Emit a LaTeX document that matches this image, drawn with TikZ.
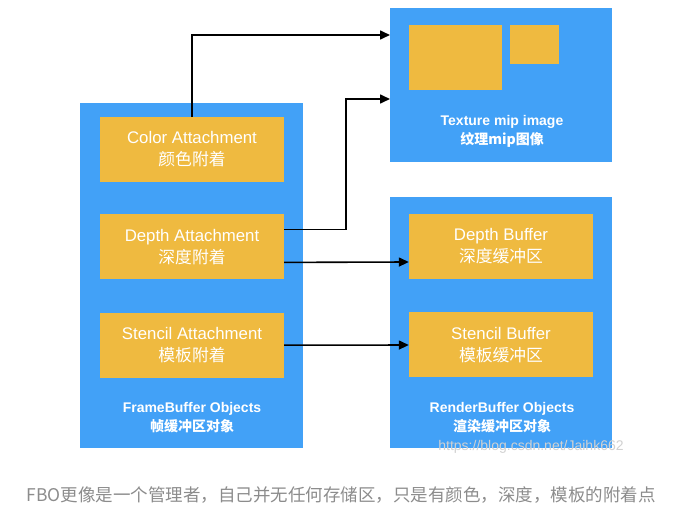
\documentclass[tikz,border=0pt]{standalone}
\usepackage{fontspec}
\setmainfont{Liberation Sans}
\newfontfamily\cjk{Noto Sans CJK SC}
\usetikzlibrary{arrows.meta, positioning, calc}
\definecolor{boxblue}{HTML}{42A1F7}
\definecolor{slotgold}{HTML}{EFBA40}
\definecolor{notegray}{HTML}{8C8C8C}

\begin{document}
\begin{tikzpicture}[x=1pt, y=-1pt,
    outer/.style={fill=boxblue, inner sep=0pt},
    slot/.style={fill=slotgold, minimum width=184pt, minimum height=65pt, inner sep=0pt,
        text=white, align=center, font=\fontsize{16.8}{22}\selectfont},
    mipbox/.style={fill=slotgold, inner sep=0pt},
    grouplab/.style={text=white, align=center, font=\bfseries\fontsize{14}{19}\selectfont},
    arr/.style={-{Triangle[length=10pt,width=9pt]}, line width=1.6pt, black},
]
\fill[white] (0,0) rectangle (693,514);
\useasboundingbox (0,0) rectangle (693,514);
\node[outer, minimum width=223pt, minimum height=345pt] (fbo) at (191.5,275.5) {};
\node[outer, minimum width=222pt, minimum height=154pt] (tex) at (501,85) {};
\node[outer, minimum width=222pt, minimum height=251pt] (rbo) at (501,322.5) {};
\node[slot] (color) at (192,149.5) {Color Attachment\\{\cjk 颜色附着}};
\node[slot, below=32pt of color] (depth) {Depth Attachment\\{\cjk 深度附着}};
\node[slot, below=33pt of depth] (stencil) {Stencil Attachment\\{\cjk 模板附着}};
\node[slot] (dbuf) at (501,246.5) {Depth Buffer\\{\cjk 深度缓冲区}};
\node[slot, below=33pt of dbuf] (sbuf) {Stencil Buffer\\{\cjk 模板缓冲区}};
\node[mipbox, minimum width=93pt, minimum height=65pt, anchor=north west] (mip0) at (409,25) {};
\node[mipbox, minimum width=49pt, minimum height=39pt, anchor=north west] (mip1) at (510,25) {};
\node[grouplab] (fbolab) at (192,417.5) {FrameBuffer Objects\\{\cjk 帧缓冲区对象}};
\node[grouplab] (texlab) at (502,131) {Texture mip image\\{\cjk 纹理mip图像}};
\node[grouplab] (rbolab) at (502,417.5) {RenderBuffer Objects\\{\cjk 渲染缓冲区对象}};
\coordinate (in1) at (390,35);
\coordinate (in2) at (390,99);
\draw[arr] (color.north) |- (in1);
\draw[arr] ([yshift=17.5pt]depth.east) -- ++(62,0) |- (in2);
\draw[arr] ([yshift=-15.5pt]depth.east) -- ([yshift=-15.5pt]dbuf.west);
\draw[arr] (stencil) -- (sbuf);
\node[text=black!18, font=\fontsize{14}{16}\selectfont] (mark) at (531,447) {https://blog.csdn.net/Jaihk662};
\node[text=notegray, font=\cjk\fontsize{17.5}{20}\selectfont] (note) at (341,495)
    {FBO更像是一个管理者，自己并无任何存储区，只是有颜色，深度，模板的附着点};
\end{tikzpicture}
\end{document}
